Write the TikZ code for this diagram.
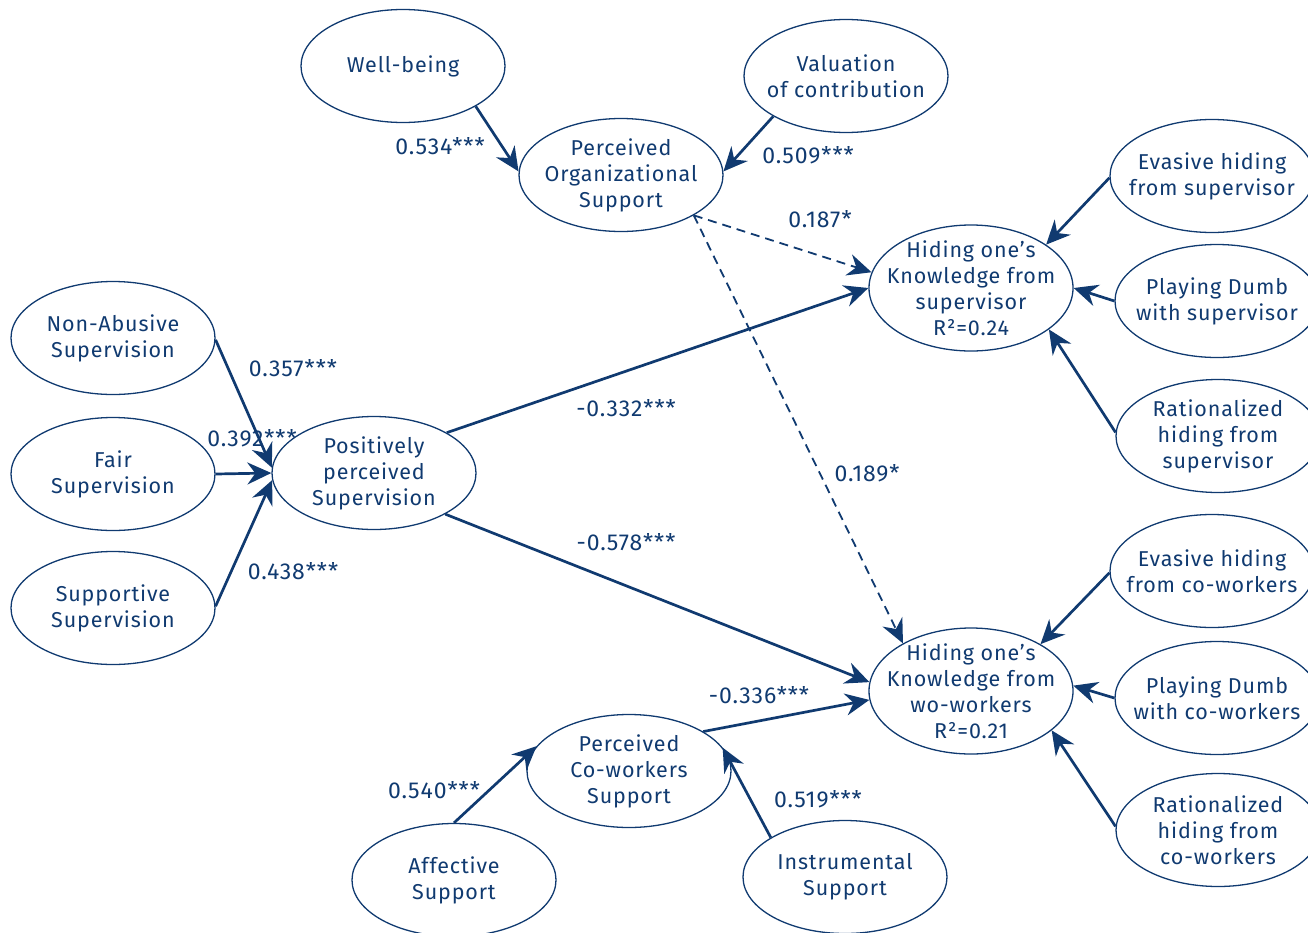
\documentclass[tikz,border=0pt]{standalone}
\usepackage{fontspec}
\setmainfont{Fira Sans}[LetterSpace=4]
\usetikzlibrary{shapes.geometric,arrows.meta}
\definecolor{navy}{RGB}{16,58,112}
\tikzset{
  construct/.style={ellipse,draw=navy,line width=1.3pt,text=navy,align=center,
    minimum width=204pt,minimum height=113pt,inner xsep=-40pt,inner ysep=-25pt,
    font=\fontsize{21.5}{26}\selectfont},
  big/.style={minimum height=126pt},
  path/.style={draw=navy,line width=2.7pt,
    -{Stealth[length=24pt,width=22pt,inset=8pt]}},
  weak/.style={path,line width=1.8pt,dash pattern=on 9pt off 6pt},
  coef/.style={text=navy,font=\fontsize{23}{26}\selectfont,inner sep=0pt}
}
\begin{document}
\begin{tikzpicture}[x=1pt,y=-1pt]
\useasboundingbox (0,0) rectangle (1308,932);
\clip (0,0) rectangle (1308,932);

% latent constructs
\node[construct] (wb)   at (403,66)  {Well-being};
\node[construct] (val)  at (846,76)  {Valuation\\of contribution};
\node[construct] (pos)  at (621,175) {Perceived\\Organizational\\Support};
\node[construct] (nas)  at (113,338) {Non-Abusive\\Supervision};
\node[construct] (fs)   at (113,474) {Fair\\Supervision};
\node[construct] (ss)   at (113,608) {Supportive\\Supervision};
\node[construct] (pps)  at (374,473) {Positively\\perceived\\Supervision};
\node[construct,big] (hks) at (971,288) {Hiding one’s\\Knowledge from\\supervisor\\R²=0.24};
\node[construct,big] (hkc) at (971,691) {Hiding one’s\\Knowledge from\\wo-workers\\R²=0.21};
\node[construct] (ehs)  at (1212,176) {Evasive hiding\\from supervisor};
\node[construct] (pds)  at (1217,301) {Playing Dumb\\with supervisor};
\node[construct] (rhs)  at (1218,436) {Rationalized\\hiding from\\supervisor};
\node[construct] (ehc)  at (1212,571) {Evasive hiding\\from co-workers};
\node[construct] (pdc)  at (1217,698) {Playing Dumb\\with co-workers};
\node[construct] (rhc)  at (1218,830) {Rationalized\\hiding from\\co-workers};
\node[construct] (pcs)  at (629,771) {Perceived\\Co-workers\\Support};
\node[construct] (aff)  at (454,880) {Affective\\Support};
\node[construct] (ins)  at (845,877) {Instrumental\\Support};

% structural paths
\draw[path] (wb.-29)   -- (pos.178);
\draw[path] (val.209)  -- (pos.2);
\draw[weak] (pos.-29)  -- (hks.171);
\draw[weak] (pos.-29)  -- (hkc.145);
\draw[path] (pps.29)   -- (hks.180);
\draw[path] (pps.-30)  -- (hkc.175);
\draw[path] (nas.-1)   -- (pps.177);
\draw[path] (fs.0)     -- (pps.180);
\draw[path] (ss.1)     -- (pps.184);
\draw[path] (pcs.28)   -- (hkc.185);
\draw[path] (aff.90)   -- (pcs.165);
\draw[path] (ins.152)  -- (pcs.14);

% reflective indicators
\draw[path] (ehs.181)  -- (hks.30);
\draw[path] (pds.180)  -- (hks.0);
\draw[path] (rhs.178)  -- (hks.-28);
\draw[path] (ehc.181)  -- (hkc.34);
\draw[path] (pdc.180)  -- (hkc.3);
\draw[path] (rhc.178)  -- (hkc.-26);

% path coefficients
\node[coef] (c1)  at (440,146) {0.534***};
\node[coef] (c2)  at (808,155) {0.509***};
\node[coef] (c3)  at (820,219) {0.187*};
\node[coef] (c4)  at (867,473) {0.189*};
\node[coef] (c5)  at (626,408) {-0.332***};
\node[coef] (c6)  at (626,542) {-0.578***};
\node[coef] (c7)  at (293,368) {0.357***};
\node[coef] (c8)  at (252,438) {0.392***};
\node[coef] (c9)  at (293,571) {0.438***};
\node[coef] (c10) at (759,695) {-0.336***};
\node[coef] (c11) at (434,790) {0.540***};
\node[coef] (c12) at (818,799) {0.519***};
\end{tikzpicture}
\end{document}
